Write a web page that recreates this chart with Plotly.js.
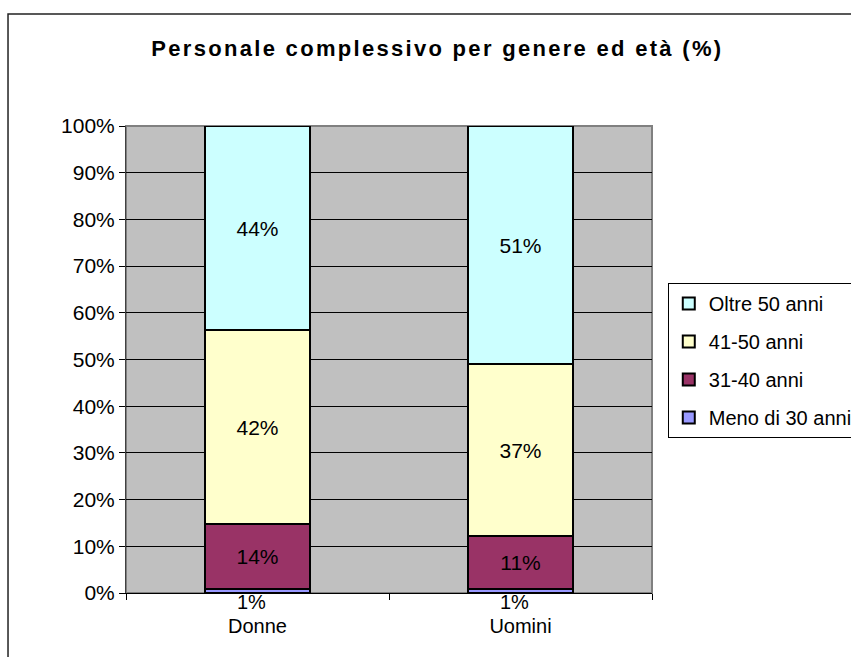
<!DOCTYPE html>
<html>
<head>
<meta charset="utf-8">
<script src="https://cdn.plot.ly/plotly-3.0.1.min.js"></script>
<style>
  html, body { margin: 0; padding: 0; background: #fff; }
  #chart { width: 851px; height: 657px; }
  .gtitle { letter-spacing: 2.3px; }
</style>
</head>
<body>
<div id="chart"></div>
<script>
// Data (percent of staff per gender)
const categories = ["Donne", "Uomini"];
const seriesNames = ["Meno di 30 anni", "31-40 anni", "41-50 anni", "Oltre 50 anni"];
const meno30 = [0.8, 0.8];
const anni31_40 = [13.9, 11.3];
const anni41_50 = [41.6, 36.9];
const oltre50 = [43.7, 51.0];
const yTickVals = [0, 10, 20, 30, 40, 50, 60, 70, 80, 90, 100];
const yTickText = ["0%", "10%", "20%", "30%", "40%", "50%", "60%", "70%", "80%", "90%", "100%"];

const colors = ["#9999FF", "#993366", "#FFFFCC", "#CCFFFF"];
const seriesValues = [meno30, anni31_40, anni41_50, oltre50];
const FONT = "Liberation Sans, Arial, sans-serif";

const traces = seriesValues.map((vals, i) => ({
  type: "bar",
  name: seriesNames[i],
  x: categories,
  y: vals,
  width: 0.4,
  legendgroup: "g" + i,
  legendrank: 1000 - i,
  marker: { color: colors[i], line: { color: "#000000", width: 2 } },
  texttemplate: i === 0 ? "" : "%{y:.0f}%",
  textposition: i === 0 ? "none" : "inside",
  insidetextanchor: "middle",
  textangle: 0,
  textfont: { family: FONT, size: 21, color: "#000000" },
  hoverinfo: "skip"
}));

const annotations = categories.map((c, k) => ({
  x: c, y: 0, xref: "x", yref: "y",
  text: Math.round(meno30[k]) + "%",
  showarrow: false, yanchor: "top", yshift: 3, xshift: -6,
  borderpad: 0,
  font: { family: FONT, size: 20, color: "#000000" }
}));

const layout = {
  width: 851, height: 657,
  margin: { l: 126, r: 199, t: 126, b: 64, autoexpand: false },
  paper_bgcolor: "#FFFFFF",
  plot_bgcolor: "#C0C0C0",
  barmode: "stack",
  font: { family: FONT, size: 21, color: "#000000" },
  title: {
    text: "Personale complessivo per genere ed età (%)",
    font: { family: FONT, size: 22, weight: "bold", color: "#000000" },
    xref: "paper", x: 0.592, xanchor: "center",
    yref: "container", y: 0.927, yanchor: "middle"
  },
  xaxis: {
    type: "category",
    range: [-0.5, 1.5],
    tickson: "boundaries",
    ticks: "outside", ticklen: 6, tickcolor: "#000000", tickwidth: 1,
    showline: true, linecolor: "#000000", linewidth: 1,
    showgrid: false, zeroline: false,
    ticklabelstandoff: 15,
    tickfont: { family: FONT, size: 20, color: "#000000" },
    fixedrange: true
  },
  yaxis: {
    range: [0, 100],
    tickvals: yTickVals, ticktext: yTickText,
    ticks: "outside", ticklen: 6, tickcolor: "#000000", tickwidth: 1,
    showline: true, linecolor: "#404040", linewidth: 1,
    showgrid: true, gridcolor: "#000000", gridwidth: 1,
    zeroline: false,
    tickfont: { family: FONT, size: 21, color: "#000000" },
    fixedrange: true
  },
  legend: {
    x: 1.03, xanchor: "left", xref: "paper",
    y: 0.664, yanchor: "top", yref: "paper",
    bgcolor: "#FFFFFF", bordercolor: "#000000", borderwidth: 1,
    traceorder: "grouped", tracegroupgap: 9,
    font: { family: FONT, size: 20, color: "#000000" }
  },
  shapes: [
    { type: "rect", xref: "paper", yref: "paper", x0: 0, x1: 1, y0: 0, y1: 1,
      line: { color: "#808080", width: 2 }, layer: "below" },
    { type: "rect", xref: "paper", yref: "paper", x0: -0.2243, x1: 1.5, y0: -0.3, y1: 1.2398,
      line: { color: "#222222", width: 1.5 }, fillcolor: "rgba(0,0,0,0)" }
  ],
  annotations: annotations,
  showlegend: true,
  hovermode: false
};

Plotly.newPlot("chart", traces, layout, { displayModeBar: false, staticPlot: true });
</script>
</body>
</html>
